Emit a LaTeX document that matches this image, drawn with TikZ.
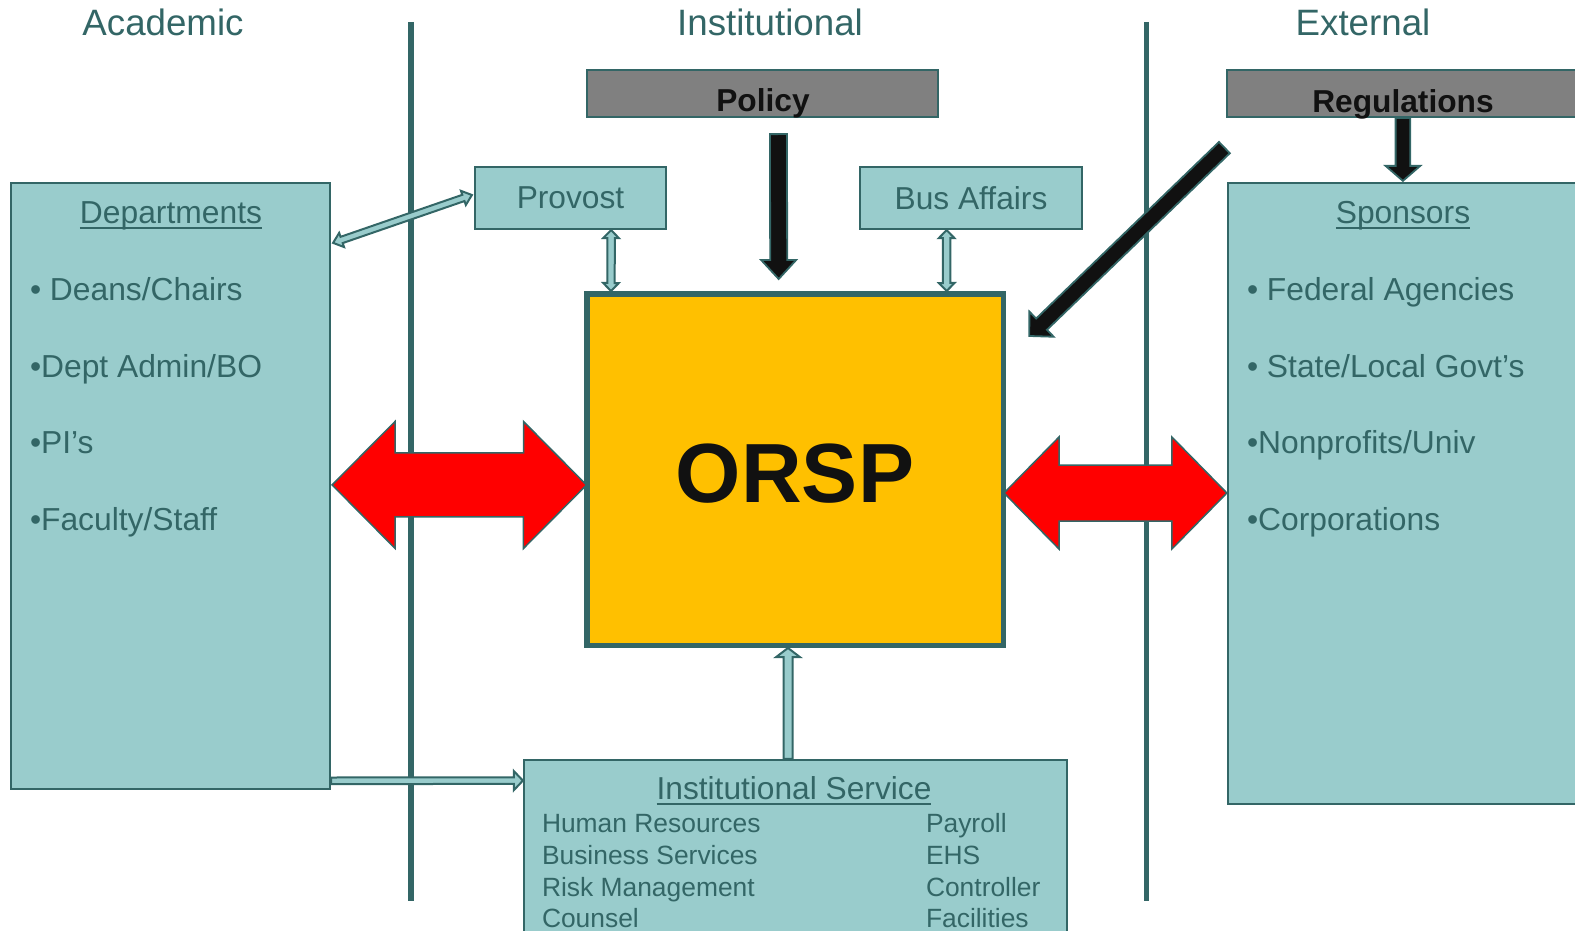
\documentclass[tikz,border=0pt]{standalone}
\usepackage{fontspec}
\setmainfont{Liberation Sans}
\usetikzlibrary{calc}
\definecolor{tealdark}{RGB}{51,102,102}
\definecolor{tealfill}{RGB}{153,204,204}
\definecolor{orspfill}{RGB}{255,192,0}
\definecolor{grayfill}{RGB}{128,128,128}
\definecolor{arrowblack}{RGB}{17,17,17}
\newcommand{\fs}[1]{\fontsize{#1pt}{#1pt}\selectfont}
\newcommand{\myul}[1]{\leavevmode\setbox0=\hbox{#1}\rlap{\rule[-0.19em]{\wd0}{0.075em}}\box0}
% #1 style, #2 from, #3 to, #4 shaft half width, #5 head half width, #6 head length, #7 double(1)/single(0)
\newcommand{\fatarrow}[7]{%
  \path (#2) coordinate (faA) (#3) coordinate (faB);%
  \pgfpointdiff{\pgfpointanchor{faA}{center}}{\pgfpointanchor{faB}{center}}%
  \pgfgetlastxy{\fadx}{\fady}%
  \pgfmathsetmacro{\falen}{veclen(\fadx,\fady)}%
  \pgfmathsetmacro{\faang}{atan2(\fady,\fadx)}%
  \pgfmathsetmacro{\fab}{\falen-#6}%
  \begin{scope}[shift={(faA)}, rotate=\faang]
    \ifnum#7=1\relax
      \draw[#1] (0pt,0pt) -- (#6pt,#5pt) -- (#6pt,#4pt) -- (\fab pt,#4pt) -- (\fab pt,#5pt) -- (\falen pt,0pt) -- (\fab pt,-#5pt) -- (\fab pt,-#4pt) -- (#6pt,-#4pt) -- (#6pt,-#5pt) -- cycle;
    \else
      \draw[#1] (0pt,#4pt) -- (\fab pt,#4pt) -- (\fab pt,#5pt) -- (\falen pt,0pt) -- (\fab pt,-#5pt) -- (\fab pt,-#4pt) -- (0pt,-#4pt) -- cycle;
    \fi
  \end{scope}}
\tikzset{
  box/.style={draw=tealdark, fill=tealfill, line width=2.2pt, inner sep=0pt},
  graybox/.style={draw=tealdark, fill=grayfill, line width=2.2pt, inner sep=0pt},
  orspbox/.style={draw=tealdark, fill=orspfill, line width=5.5pt, inner sep=0pt},
  lbl/.style={text=tealdark, inner sep=0pt, outer sep=0pt},
  blk/.style={text=arrowblack, inner sep=0pt, outer sep=0pt},
  sepline/.style={draw=tealdark, line width=5.5pt},
  smallarr/.style={draw=tealdark, fill=tealfill, line width=2pt},
  redarr/.style={draw=tealdark, fill=red, line width=1.5pt},
  blackarr/.style={draw=tealdark, fill=arrowblack, line width=1.8pt},
}
\begin{document}
\begin{tikzpicture}[x=1pt, y=-1pt]
\useasboundingbox (0,0) rectangle (1575,931);
\clip (0,0) rectangle (1575,931);
% separators
\draw[sepline] (411,22) -- (411,901);
\draw[sepline] (1146.5,22) -- (1146.5,901);
% headers
\node[lbl, anchor=base, font=\fs{36.7}] (hacad) at (163,35.5) {Academic};
\node[lbl, anchor=base, font=\fs{36.7}] (hinst) at (770,35.5) {Institutional};
\node[lbl, anchor=base, font=\fs{36.7}] (hext) at (1363,35.5) {External};
% boxes
\node[graybox, minimum width=351pt, minimum height=47pt] (policy) at (762.5,93.5) {};
\node[graybox, minimum width=372pt, minimum height=47pt] (regs) at (1413,93.5) {};
\node[box, minimum width=191pt, minimum height=62pt, text=tealdark, font=\fs{31.7}] (prov) at (570.5,198) {Provost};
\node[box, minimum width=222pt, minimum height=62pt, text=tealdark, font=\fs{31.7}] (bus) at (971,198) {Bus Affairs};
\node[box, minimum width=319pt, minimum height=606pt] (dept) at (170.5,486) {};
\node[box, minimum width=371pt, minimum height=621pt] (spons) at (1413.5,493.5) {};
\node[box, minimum width=543pt, minimum height=199pt] (inst) at (795.5,859.5) {};
\node[orspbox, minimum width=416.5pt, minimum height=351.5pt] (orsp) at (795,469.5) {};
% box texts
\node[blk, anchor=base, font=\fs{31.7}\bfseries] (tpolicy) at (763,112) {Policy};
\node[blk, anchor=base, font=\fs{31.7}\bfseries] (tregs) at (1403,112.5) {Regulations};
\node[blk, anchor=base, font=\fs{84}\bfseries] (torsp) at (795,502) {ORSP};
\node[lbl, anchor=base, font=\fs{31.8}] (tdept) at (171,223) {\myul{Departments}};
\node[lbl, anchor=base west, font=\fs{31.8}] (d1) at (30,300) {• Deans/Chairs};
\node[lbl, anchor=base west, font=\fs{31.8}] (d2) at (30,377) {•Dept Admin/BO};
\node[lbl, anchor=base west, font=\fs{31.8}] (d3) at (30,453) {•PI’s};
\node[lbl, anchor=base west, font=\fs{31.8}] (d4) at (30,530) {•Faculty/Staff};
\node[lbl, anchor=base, font=\fs{31.8}] (tspons) at (1403,223) {\myul{Sponsors}};
\node[lbl, anchor=base west, font=\fs{31.8}] (s1) at (1247,300) {• Federal Agencies};
\node[lbl, anchor=base west, font=\fs{31.8}] (s2) at (1247,377) {• State/Local Govt’s};
\node[lbl, anchor=base west, font=\fs{31.8}] (s3) at (1247,453) {•Nonprofits/Univ};
\node[lbl, anchor=base west, font=\fs{31.8}] (s4) at (1247,530) {•Corporations};
\node[lbl, anchor=base, font=\fs{31.7}] (tinst) at (794,799) {\myul{Institutional Service}};
\node[lbl, anchor=base west, font=\fs{26.4}] (i1) at (542,832) {Human Resources};
\node[lbl, anchor=base west, font=\fs{26.4}] (i2) at (542,864) {Business Services};
\node[lbl, anchor=base west, font=\fs{26.4}] (i3) at (542,896) {Risk Management};
\node[lbl, anchor=base west, font=\fs{26.4}] (i4) at (542,927.5) {Counsel};
\node[lbl, anchor=base west, font=\fs{26.4}] (i5) at (926,832) {Payroll};
\node[lbl, anchor=base west, font=\fs{26.4}] (i6) at (926,864) {EHS};
\node[lbl, anchor=base west, font=\fs{26.4}] (i7) at (926,896) {Controller};
\node[lbl, anchor=base west, font=\fs{26.4}] (i8) at (926,927.5) {Facilities};
% connectors
\fatarrow{smallarr}{$(dept.north east)+(2,61)$}{$(prov.west)+(-2,-3)$}{3.3}{7.5}{9}{1}
\fatarrow{smallarr}{$(prov.south east)+(-56,0)$}{$(orsp.north west)+(27,0)$}{3.7}{7.8}{8}{1}
\fatarrow{smallarr}{$(bus.south west)+(87.7,0)$}{$(orsp.north west)+(362.7,0)$}{3.7}{7.8}{8}{1}
\fatarrow{blackarr}{$(policy.south)+(16,16)$}{$(orsp.north)+(-16.3,-12)$}{8.5}{17.5}{19}{0}
\fatarrow{blackarr}{$(regs.south west)+(177,0)$}{$(spons.north west)+(176,-1)$}{7.3}{17.3}{15}{0}
\fatarrow{blackarr}{$(regs.south west)+(-1.5,29.5)$}{$(orsp.north east)+(23.3,45)$}{7.8}{17.5}{17}{0}
\fatarrow{redarr}{$(dept.north east)+(1,303)$}{$(orsp.west)+(2.5,15.5)$}{32}{63.5}{63}{1}
\fatarrow{redarr}{$(orsp.east)+(-2,23.5)$}{$(spons.west)+(0,-0.5)$}{28}{56}{55}{1}
\fatarrow{smallarr}{$(dept.south east)+(0,-9.3)$}{$(inst.north west)+(0,21.7)$}{3.3}{9.5}{9}{0}
\fatarrow{smallarr}{$(inst.north)+(-7.5,0)$}{$(orsp.south)+(-7,0)$}{4.5}{11.8}{9}{0}
\end{tikzpicture}
\end{document}
